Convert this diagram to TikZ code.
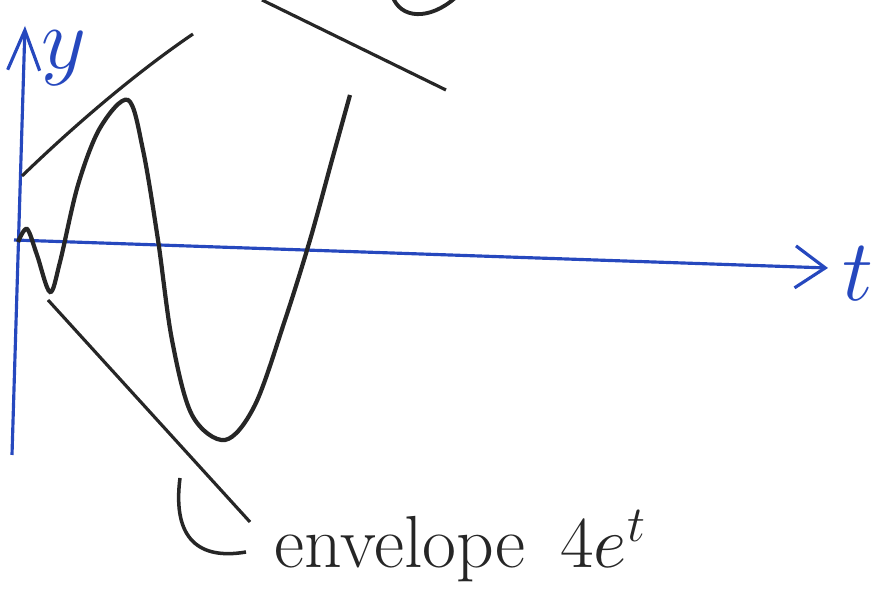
\documentclass[tikz,border=0pt]{standalone}
\usepackage{amsmath}
\usetikzlibrary{arrows.meta, positioning, calc}

\definecolor{penblue}{RGB}{38,72,190}
\definecolor{penblack}{RGB}{38,38,38}

\begin{document}
\begin{tikzpicture}[x=0.1mm, y=-0.1mm]
      \useasboundingbox (0,0) rectangle (890,592);
      \clip (0,0) rectangle (890,592);

      % Axes (blue pen)
      \coordinate (ybot) at (12,455);
      \coordinate (ytop) at (25,26);
      \coordinate (tleft) at (14,240);
      \coordinate (tright) at (828,268);
      \draw[penblue, line width=0.9pt, -{Straight Barb[length=4mm, width=3.2mm]}] (ybot) -- (ytop);
      \draw[penblue, line width=0.9pt, -{Straight Barb[length=3mm, width=4.2mm]}] (tleft) -- (tright);
      \node[penblue, inner sep=0pt, font=\fontsize{30}{32}\selectfont] (ylab) at (64,58) {$y$};
      \node[penblue, inner sep=0pt, font=\fontsize{30}{32}\selectfont] (tlab) at (858,274) {$t$};

      % Growing oscillation
      \draw[penblack, line width=1.2pt, smooth, tension=0.55] plot coordinates {
        (18,242) (27,229) (37,255) (50,292) (60,262) (78,185) (100,128) (128,100)
        (143,150) (158,240) (172,340) (192,415) (225,440) (255,405) (285,320)
        (310,240) (332,160) (350,95)};

      % Envelope lines
      \draw[penblack, line width=0.9pt] (22,176) .. controls (80,120) and (140,70) .. (193,34);
      \draw[penblack, line width=0.9pt] (262,0) -- (446,90);
      \draw[penblack, line width=1.1pt] (392,-5) .. controls (400,20) and (430,20) .. (455,-2);
      \draw[penblack, line width=0.9pt] (48,300) -- (250,522);

      % Label with its bracket
      \coordinate (brtop) at (180,478);
      \coordinate (brend) at (246,552);
      \draw[penblack, line width=1pt] (brtop) .. controls (172,540) and (200,560) .. (brend);
      \node[penblack, anchor=base west, font=\fontsize{21}{24}\selectfont] (env) at (262,568) {envelope \,$4e^{t}$};
    \end{tikzpicture}
\end{document}
